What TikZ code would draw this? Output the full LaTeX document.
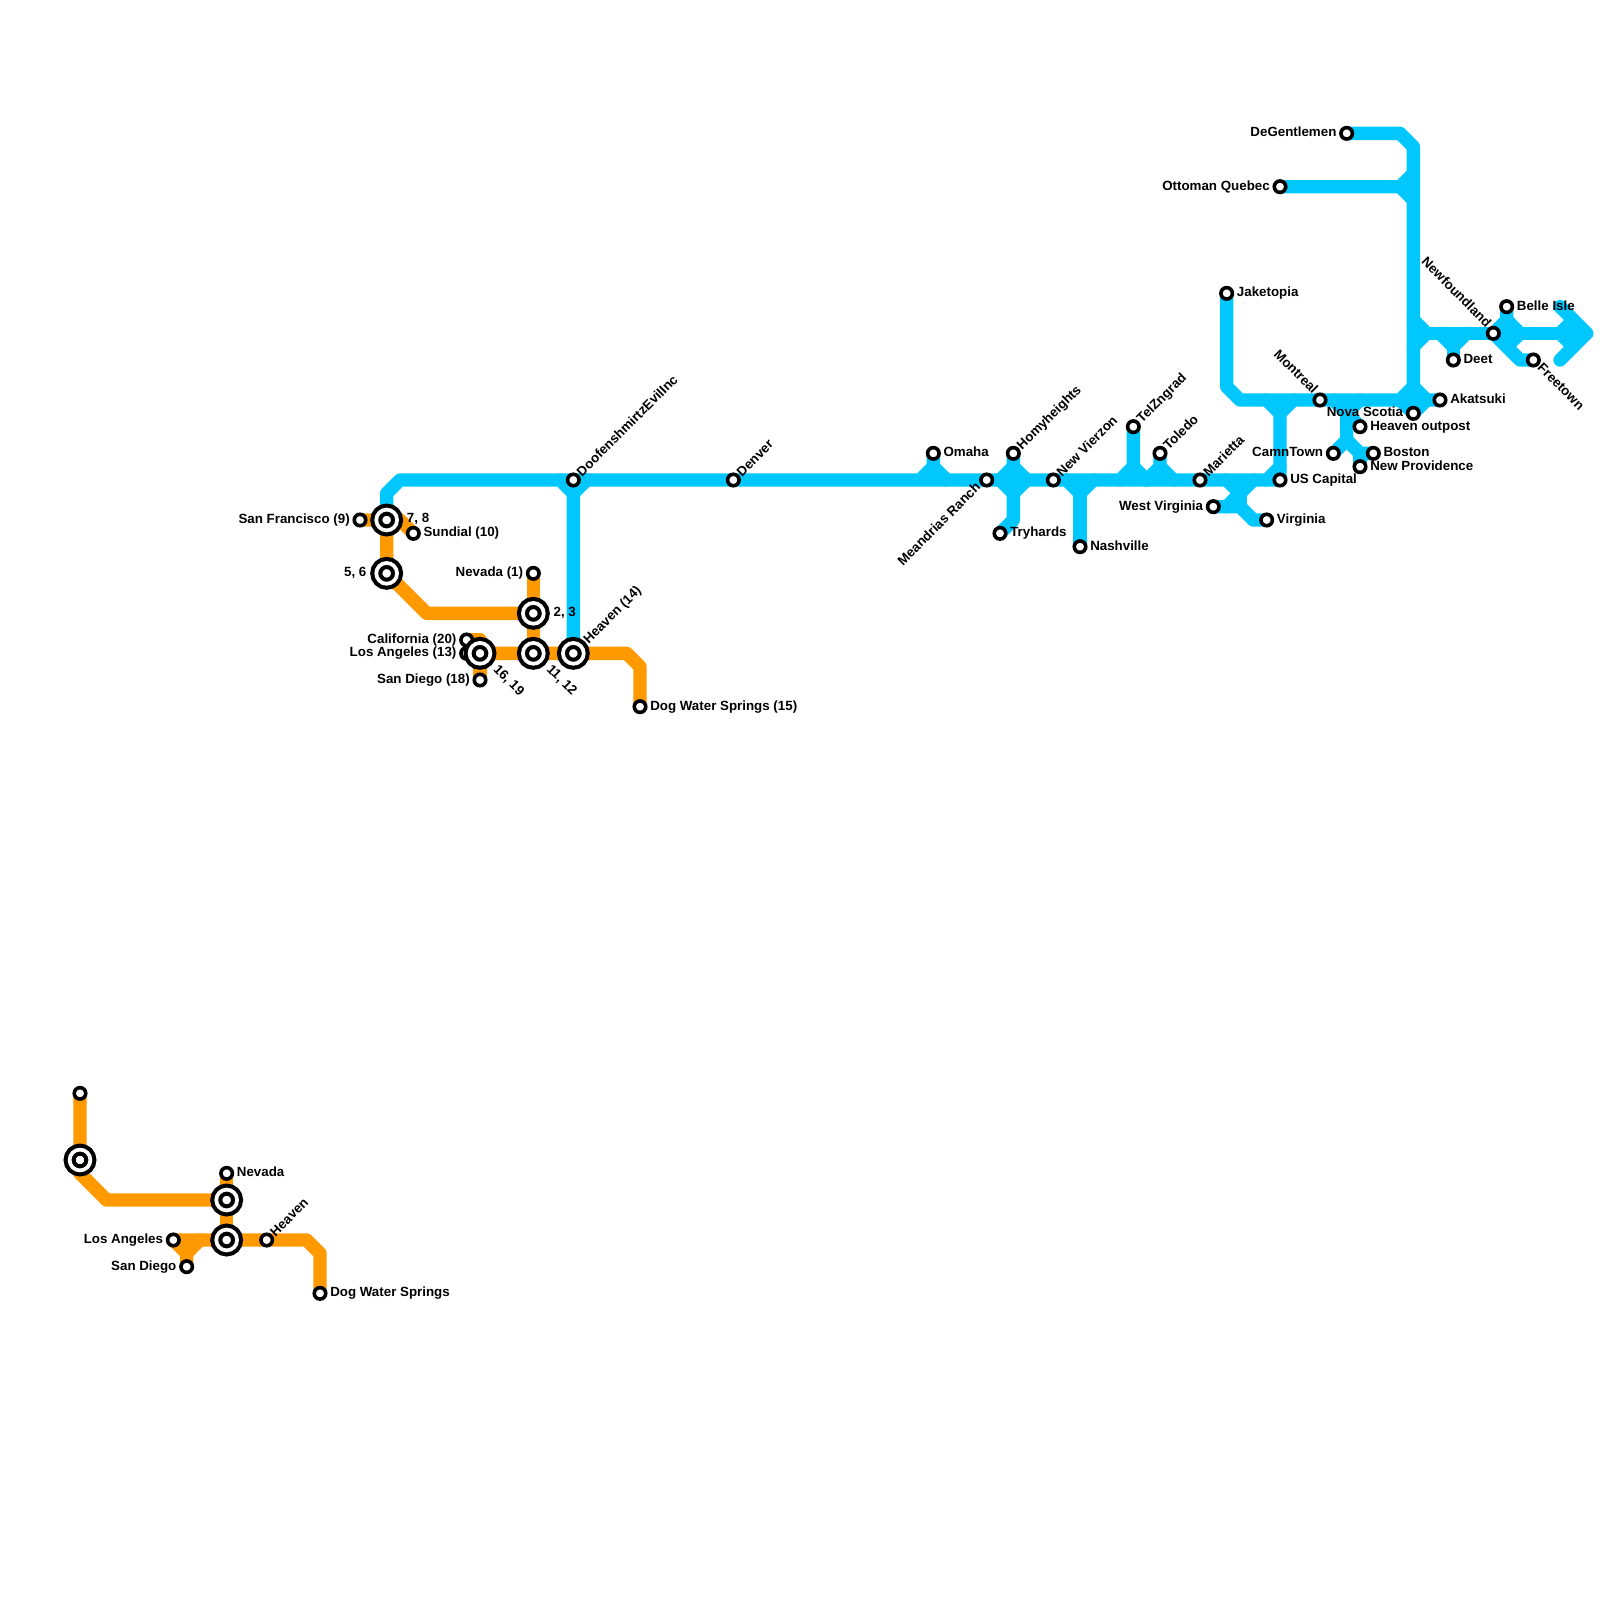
\documentclass[tikz,border=0pt]{standalone}
\usepackage{fontspec}
\setmainfont{Liberation Sans}
\usetikzlibrary{backgrounds}
\definecolor{amber}{HTML}{FF9900}
\definecolor{skyline}{HTML}{00C8FF}
\begin{document}
\begin{tikzpicture}[x=10pt, y=-10pt,
    stn/.style={circle, draw=black, fill=white, line width=2.7pt, minimum size=8.6pt, inner sep=0pt, outer sep=0pt},
    hub/.style={circle, draw=black, fill=white, line width=3.1pt, double=white, double distance=2.8pt, minimum size=15.6pt, inner sep=0pt, outer sep=0pt},
    txt/.style={font=\fontsize{10}{10}\selectfont\bfseries, inner sep=0pt},
    lbe/.style={txt, anchor=base west},
    lbw/.style={txt, anchor=base east},
    lbne/.style={txt, anchor=base west, rotate=45},
    lbse/.style={txt, anchor=base west, rotate=-45},
    lbnw/.style={txt, anchor=base east, rotate=-45},
    lbsw/.style={txt, anchor=base east, rotate=45},
    org/.style={draw=amber, line width=10pt, line cap=round, line join=round},
    sky/.style={draw=skyline, line width=10pt, line cap=round, line join=round}]
    \useasboundingbox (0,0) rectangle (120,120);
    % lower orange group
    \node[stn] (wtop) at (6,82) {};
    \node[stn] (wnev) at (17,88) {};
    \node[lbe] (wnevt) at (17.75,88.25) {Nevada};
    \node[stn] (wla) at (13,93) {};
    \node[lbw] (wlat) at (12.25,93.25) {Los Angeles};
    \node[stn] (wsd) at (14,95) {};
    \node[lbw] (wsdt) at (13.25,95.25) {San Diego};
    \node[stn] (whvn) at (20,93) {};
    \node[lbne] (whvnt) at (20.65,92.8) {Heaven};
    \node[stn] (wdog) at (24,97) {};
    \node[lbe] (wdogt) at (24.75,97.25) {Dog Water Springs};
    \node[hub] (wa) at (6,87) {};
    \node[hub] (wb) at (17,90) {};
    \node[hub] (wc) at (17,93) {};
    \coordinate (wj1) at (14,94);
    % upper orange group
    \node[stn] (sf) at (27,39) {};
    \node[lbw] (sft) at (26.25,39.25) {San Francisco (9)};
    \node[stn] (sund) at (31,40) {};
    \node[lbe] (sundt) at (31.75,40.25) {Sundial (10)};
    \node[stn] (nev) at (40,43) {};
    \node[lbw] (nevt) at (39.25,43.25) {Nevada (1)};
    \node[stn] (calif) at (35,48) {};
    \node[lbw] (calift) at (34.25,48.25) {California (20)};
    \node[stn] (la) at (35,49) {};
    \node[lbw] (lat) at (34.25,49.25) {Los Angeles (13)};
    \node[stn] (sd) at (36,51) {};
    \node[lbw] (sdt) at (35.25,51.25) {San Diego (18)};
    \node[stn] (dog) at (48,53) {};
    \node[lbe] (dogt) at (48.75,53.25) {Dog Water Springs (15)};
    \node[hub] (x78) at (29,39) {};
    \node[lbe] (x78t) at (30.5,39.2) {7, 8};
    \node[hub] (x56) at (29,43) {};
    \node[lbw] (x56t) at (27.5,43.2) {5, 6};
    \node[hub] (x23) at (40,46) {};
    \node[lbe] (x23t) at (41.5,46.2) {2, 3};
    \node[hub] (x1619) at (36,49) {};
    \node[lbse] (x1619t) at (36.95,50.25) {16, 19};
    \node[hub] (x1112) at (40,49) {};
    \node[lbse] (x1112t) at (40.95,50.25) {11, 12};
    \node[hub] (x14) at (43,49) {};
    \node[lbne] (x14t) at (44.15,48.35) {Heaven (14)};
    % blue stations along the long run
    \node[stn] (doof) at (43,36) {};
    \node[lbne] (dooft) at (43.65,35.8) {DoofenshmirtzEvilInc};
    \node[stn] (denv) at (55,36) {};
    \node[lbne] (denvt) at (55.65,35.8) {Denver};
    \node[stn] (omaha) at (70,34) {};
    \node[lbe] (omahat) at (70.75,34.25) {Omaha};
    \node[stn] (mead) at (74,36) {};
    \node[lbsw] (meadt) at (73.6,36.6) {Meandrias Ranch};
    \node[stn] (homy) at (76,34) {};
    \node[lbne] (homyt) at (76.65,33.8) {Homyheights};
    \node[stn] (tryh) at (75,40) {};
    \node[lbe] (tryht) at (75.75,40.25) {Tryhards};
    \node[stn] (vierz) at (79,36) {};
    \node[lbne] (vierzt) at (79.65,35.8) {New Vierzon};
    \node[stn] (nash) at (81,41) {};
    \node[lbe] (nasht) at (81.75,41.25) {Nashville};
    \node[stn] (telz) at (85,32) {};
    \node[lbne] (telzt) at (85.65,31.8) {TelZngrad};
    \node[stn] (tol) at (87,34) {};
    \node[lbne] (tolt) at (87.65,33.8) {Toledo};
    \node[stn] (mari) at (90,36) {};
    \node[lbne] (marit) at (90.65,35.8) {Marietta};
    \node[stn] (wvir) at (91,38) {};
    \node[lbw] (wvirt) at (90.25,38.25) {West Virginia};
    \node[stn] (virg) at (95,39) {};
    \node[lbe] (virgt) at (95.75,39.25) {Virginia};
    \node[stn] (usc) at (96,36) {};
    \node[lbe] (usct) at (96.75,36.25) {US Capital};
    \node[stn] (jake) at (92,22) {};
    \node[lbe] (jaket) at (92.75,22.25) {Jaketopia};
    \node[stn] (mont) at (99,30) {};
    \node[lbnw] (montt) at (98.45,29.6) {Montreal};
    \node[stn] (nova) at (106,31) {};
    \node[lbw] (novat) at (105.25,31.25) {Nova Scotia};
    \node[stn] (aka) at (108,30) {};
    \node[lbe] (akat) at (108.75,30.25) {Akatsuki};
    \node[stn] (hout) at (102,32) {};
    \node[lbe] (houtt) at (102.75,32.25) {Heaven outpost};
    \node[stn] (camn) at (100,34) {};
    \node[lbw] (camnt) at (99.25,34.25) {CamnTown};
    \node[stn] (bost) at (103,34) {};
    \node[lbe] (bostt) at (103.75,34.25) {Boston};
    \node[stn] (prov) at (102,35) {};
    \node[lbe] (provt) at (102.75,35.25) {New Providence};
    \node[stn] (degen) at (101,10) {};
    \node[lbw] (degent) at (100.25,10.25) {DeGentlemen};
    \node[stn] (ottom) at (96,14) {};
    \node[lbw] (ottomt) at (95.25,14.25) {Ottoman Quebec};
    \node[stn] (newf) at (112,25) {};
    \node[lbnw] (newft) at (111.45,24.6) {Newfoundland};
    \node[stn] (deet) at (109,27) {};
    \node[lbe] (deett) at (109.75,27.25) {Deet};
    \node[stn] (belle) at (113,23) {};
    \node[lbe] (bellet) at (113.75,23.25) {Belle Isle};
    \node[stn] (free) at (115,27) {};
    \node[lbse] (freet) at (115.25,27.65) {Freetown};
    % free ends of the short stubs
    \coordinate (j1) at (106,29);
    \coordinate (j2) at (106,26);
    \coordinate (j3) at (106,24);
    \coordinate (j4) at (106,13);
    \coordinate (j5) at (106,15);
    \coordinate (j6) at (42,36);
    \coordinate (j7) at (44,36);
    \coordinate (j8) at (108,25);
    \coordinate (j9) at (110,25);
    \coordinate (arrA) at (117,23);
    \coordinate (arrB) at (117,27);
    \coordinate (arrC) at (119,25);
    \begin{pgfonlayer}{background}
    \draw[org] (wtop.center) -- (6,88) -- (8,90) -- (wb.center);
    \draw[org] (wnev.center) -- (wc.center);
    \draw[org] (wla.center) -- (whvn.center) -- (23,93) -- (24,94) -- (wdog.center);
    \draw[org] (wla.center) -- (wj1) -- (wsd.center);
    \draw[org] (15,93) -- (wj1);
    \draw[org] (sf.center) -- (30,39) -- (sund.center);
    \draw[org] (x78.center) -- (x56.center) -- (32,46) -- (x23.center);
    \draw[org] (nev.center) -- (x1112.center);
    \draw[org] (calif.center) -- (36,48) -- (sd.center);
    \draw[org] (la.center) -- (x14.center) -- (47,49) -- (48,50) -- (dog.center);
    \draw[sky] (x78.center) -- (29,37) -- (30,36) -- (usc.center);
    \draw[sky] (x14.center) -- (43,37) -- (j6);
    \draw[sky] (43,37) -- (j7);
    \draw[sky] (omaha.center) -- (70,35) -- (69,36);
    \draw[sky] (70,35) -- (71,36);
    \draw[sky] (homy.center) -- (76,39) -- (tryh.center);
    \draw[sky] (75,36) -- (76,35) -- (77,36) -- (76,37) -- cycle;
    \draw[sky] (80,36) -- (81,37) -- (82,36);
    \draw[sky] (81,37) -- (nash.center);
    \draw[sky] (telz.center) -- (85,35) -- (84,36);
    \draw[sky] (85,35) -- (86,36);
    \draw[sky] (tol.center) -- (87,35) -- (86,36);
    \draw[sky] (87,35) -- (88,36);
    \draw[sky] (92,36) -- (93,37) -- (94,36);
    \draw[sky] (wvir.center) -- (93,38) -- (94,39) -- (virg.center);
    \draw[sky] (93,37) -- (93,38);
    \draw[sky] (93,37) -- (92,38);
    \draw[sky] (95,36) -- (96,35);
    \draw[sky] (usc.center) -- (96,31) -- (95,30);
    \draw[sky] (96,31) -- (97,30);
    \draw[sky] (jake.center) -- (92,29) -- (93,30) -- (105,30) -- (j1);
    \draw[sky] (j1) -- (107,30) -- (aka.center);
    \draw[sky] (j1) -- (nova.center);
    \draw[sky] (105,30) -- (nova.center) -- (107,30);
    \draw[sky] (degen.center) -- (105,10) -- (106,11) -- (j1);
    \draw[sky] (ottom.center) -- (105,14) -- (j4);
    \draw[sky] (105,14) -- (j5);
    \draw[sky] (100,30) -- (101,31) -- (102,30);
    \draw[sky] (101,31) -- (hout.center);
    \draw[sky] (101,31) -- (101,33) -- (camn.center);
    \draw[sky] (101,33) -- (102,34) -- (bost.center);
    \draw[sky] (102,34) -- (prov.center);
    \draw[sky] (j3) -- (107,25) -- (j2);
    \draw[sky] (107,25) -- (newf.center) -- (arrC);
    \draw[sky] (j8) -- (109,26) -- (j9);
    \draw[sky] (109,26) -- (deet.center);
    \draw[sky] (belle.center) -- (113,24) -- (newf.center);
    \draw[sky] (113,24) -- (114,25);
    \draw[sky] (newf.center) -- (114,27) -- (free.center);
    \draw[sky] (113,26) -- (114,25);
    \draw[sky] (arrA) -- (arrC) -- (arrB);
    \draw[sky] (118,24) -- (117,25) -- (118,26);
    \end{pgfonlayer}
  \end{tikzpicture}
\end{document}
